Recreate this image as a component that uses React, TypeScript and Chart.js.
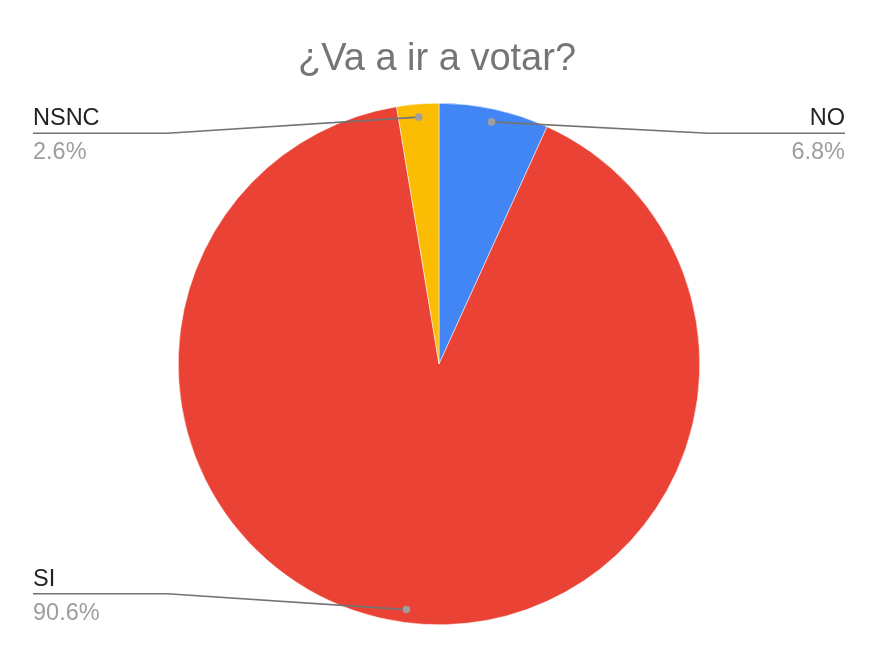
import { useEffect, useRef } from 'react';
import { Chart, registerables, Plugin } from 'chart.js';

Chart.register(...registerables);

const title = '¿Va a ir a votar?';
const categories = ['NO', 'SI', 'NSNC'];
const values = [6.8, 90.6, 2.6];
const colors = ['#4285F4', '#EA4335', '#FBBC04'];

const FONT = 'Arial, "Liberation Sans", sans-serif';

const overlay: Plugin<'pie'> = {
  id: 'overlay',
  afterDraw(chart) {
    const ctx = chart.ctx;
    const w = chart.width;
    ctx.save();

    // title
    ctx.fillStyle = '#757575';
    ctx.font = `38px ${FONT}`;
    ctx.textAlign = 'center';
    ctx.textBaseline = 'alphabetic';
    ctx.fillText(title, w / 2 - 2, 70);

    const meta = chart.getDatasetMeta(0);
    const total = values.reduce((a, b) => a + b, 0);
    meta.data.forEach((el: any, i: number) => {
      const { x, y, startAngle, endAngle, outerRadius } = el.getProps(
        ['x', 'y', 'startAngle', 'endAngle', 'outerRadius'],
        true
      );
      const mid = (startAngle + endAngle) / 2;
      const dx = x + Math.cos(mid) * outerRadius * 0.95;
      const dy = y + Math.sin(mid) * outerRadius * 0.95;
      const right = dx > x;
      const lineY = dy < y ? y - outerRadius + 30 : y + outerRadius - 31;
      const elbowX = right ? x + outerRadius + 8 : x - outerRadius - 11;
      const endX = right ? w - 33 : 33;

      ctx.strokeStyle = '#737373';
      ctx.lineWidth = 1.7;
      ctx.beginPath();
      ctx.moveTo(endX, lineY);
      ctx.lineTo(elbowX, lineY);
      ctx.lineTo(dx, dy);
      ctx.stroke();

      ctx.fillStyle = '#9e9e9e';
      ctx.beginPath();
      ctx.arc(dx, dy, 3.8, 0, Math.PI * 2);
      ctx.fill();

      ctx.textAlign = right ? 'right' : 'left';
      ctx.font = `23.5px ${FONT}`;
      ctx.fillStyle = '#222222';
      ctx.fillText(categories[i], endX, lineY - 8);
      ctx.fillStyle = '#9e9e9e';
      ctx.fillText(((values[i] / total) * 100).toFixed(1) + '%', endX, lineY + 26);
    });
    ctx.restore();
  },
};

export default function App() {
  const chartRef = useRef<HTMLCanvasElement>(null);
  const chartInstance = useRef<Chart | null>(null);

  useEffect(() => {
    document.body.style.margin = '0';
    if (!chartRef.current) return;
    const ctx = chartRef.current.getContext('2d');
    if (!ctx) return;

    chartInstance.current = new Chart(ctx, {
      type: 'pie',
      data: {
        labels: categories,
        datasets: [
          {
            data: values,
            backgroundColor: colors,
            borderColor: '#ffffff',
            borderWidth: 0.5,
          },
        ],
      },
      options: {
        responsive: false,
        animation: false,
        layout: { padding: { top: 103, bottom: 33, left: 0, right: 0 } },
        plugins: {
          legend: { display: false },
          tooltip: { enabled: false },
        },
      },
      plugins: [overlay],
    });

    return () => {
      if (chartInstance.current) {
        chartInstance.current.destroy();
      }
    };
  }, []);

  return (
    <div style={{ width: 878, height: 658, background: '#ffffff' }}>
      <canvas ref={chartRef} width={878} height={658} />
    </div>
  );
}
